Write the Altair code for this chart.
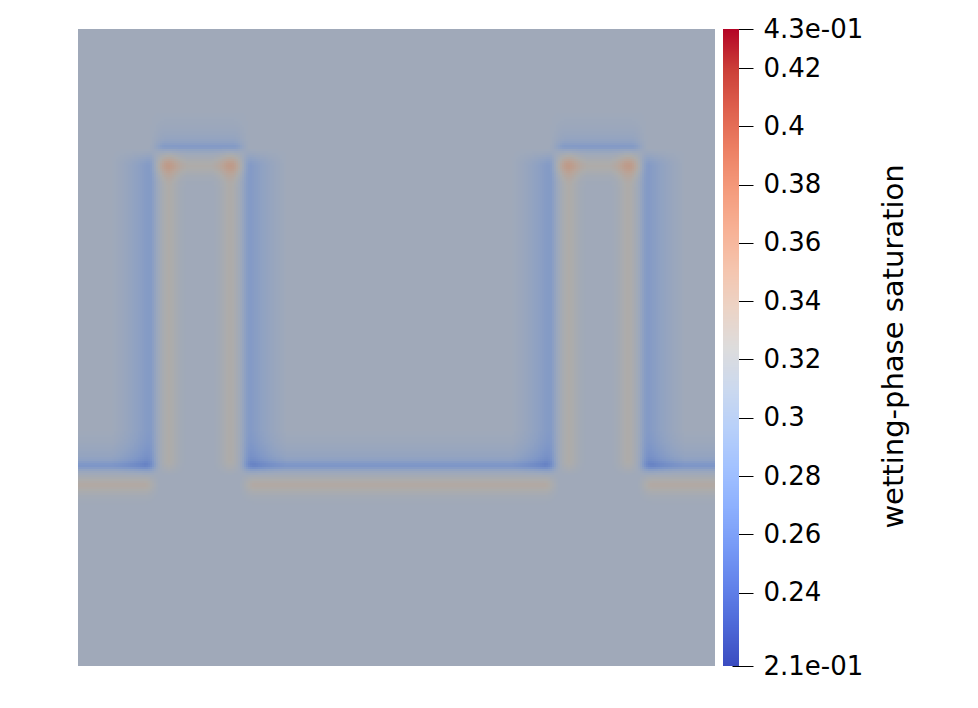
import numpy as np
import pandas as pd
import altair as alt

alt.data_transformers.disable_max_rows()

# ---------------- data ----------------
# colour bar range and ticks
value_min = 0.2148
value_max = 0.4334
tick_values = [0.2148, 0.24, 0.26, 0.28, 0.30, 0.32, 0.34, 0.36, 0.38, 0.40, 0.42, 0.4334]
tick_labels = ["2.1e-01", "0.24", "0.26", "0.28", "0.3", "0.32", "0.34",
               "0.36", "0.38", "0.4", "0.42", "4.3e-01"]
bar_title = "wetting-phase saturation"

# Cool-to-warm colour map stops (low -> high)
coolwarm_rgb = [
    (59, 76, 192), (77, 104, 215), (98, 130, 234), (119, 154, 246),
    (141, 176, 254), (163, 194, 255), (184, 208, 249), (204, 217, 238),
    (221, 220, 220), (236, 211, 197), (245, 196, 173), (247, 176, 148),
    (244, 154, 123), (236, 127, 99), (222, 96, 77), (203, 62, 56), (180, 4, 38),
]

# field geometry (domain units, 637 x 637, origin top-left)
field_size = 637
base_saturation = 0.311
bottom_line_y = 441          # interface of the lower region
tower_top_y = 122            # top interface of both towers
tower_left_x = [76, 476]     # left interfaces of the two towers
tower_right_x = [167, 565]   # right interfaces of the two towers

# saturation change across an interface, s = distance into the lower region
h_profile_s = [-40, -28, -20, -14, -10, -7, -5, -3, -1, 2, 5, 8, 11, 14, 16, 19, 22, 26, 31, 38]
h_profile_v = [0.0, -0.003, -0.007, -0.011, -0.016, -0.024, -0.030, -0.027, -0.016,
               -0.004, 0.003, 0.009, 0.015, 0.019, 0.019, 0.015, 0.010, 0.005, 0.0015, 0.0]
top_strength = 0.8           # tower tops are a little weaker than the bottom line
v_profile_s = [-42, -32, -24, -16, -10, -6, -3, 0, 3, 6, 9, 12, 15, 18, 22, 27, 33]
v_profile_v = [0.0, -0.005, -0.010, -0.016, -0.021, -0.024, -0.023, -0.015, -0.005,
               0.002, 0.008, 0.013, 0.015, 0.013, 0.008, 0.003, 0.0]
# extra saturation at the inner top corners of the towers, by distance
corner_offset = 14
corner_profile_r = [0, 5, 10, 15, 20]
corner_profile_v = [0.010, 0.008, 0.005, 0.002, 0.0]

# ---------------- build the cell table ----------------
cell = 2
xe = np.append(np.arange(0, field_size, cell), field_size).astype(float)
ye = xe.copy()
xc = (xe[:-1] + xe[1:]) / 2
yc = (ye[:-1] + ye[1:]) / 2
X, Y = np.meshgrid(xc, yc)


def ramp(t, start, length):
    u = np.clip((t - start) / length, 0, 1)
    return u * u * (3 - 2 * u)


field = np.full(X.shape, base_saturation)
far = 10000
bottom_edges = [(-far, tower_left_x[0]),
                (tower_right_x[0], tower_left_x[1]),
                (tower_right_x[1], far)]
for a, b in bottom_edges:
    s = Y - bottom_line_y
    t = np.minimum(X - a, b - X)
    field += np.interp(s, h_profile_s, h_profile_v, left=0, right=0) * ramp(t, -8, 18)
for a, b in zip(tower_left_x, tower_right_x):
    s = Y - tower_top_y
    t = np.minimum(X - a, b - X)
    field += top_strength * np.interp(s, h_profile_s, h_profile_v, left=0, right=0) * ramp(t, -6, 18)
v_edges = [(x, 1) for x in tower_left_x] + [(x, -1) for x in tower_right_x]
for pos, sign in v_edges:
    s = sign * (X - pos)
    w = ramp(Y - tower_top_y, -4, 20) * ramp(bottom_line_y - Y, -8, 18)
    field += np.interp(s, v_profile_s, v_profile_v, left=0, right=0) * w
for a, b in zip(tower_left_x, tower_right_x):
    for cx in (a + corner_offset, b - corner_offset):
        r = np.hypot(X - cx, Y - (tower_top_y + corner_offset))
        field += np.interp(r, corner_profile_r, corner_profile_v, right=0)

q = 0.0005
levels = np.round(field / q).astype(int)
rects = []
open_runs = {}
ny, nx = levels.shape
for j in range(ny):
    row = levels[j]
    runs = []
    i0 = 0
    for i in range(1, nx + 1):
        if i == nx or row[i] != row[i0]:
            runs.append((i0, i, int(row[i0])))
            i0 = i
    new_open = {}
    for r in runs:
        new_open[r] = open_runs.pop(r) if r in open_runs else j
    for r, j0 in open_runs.items():
        rects.append((xe[r[0]], xe[r[1]], ye[j0], ye[j], r[2] * q))
    open_runs = new_open
for r, j0 in open_runs.items():
    rects.append((xe[r[0]], xe[r[1]], ye[j0], ye[ny], r[2] * q))
cells = pd.DataFrame(rects, columns=["x0", "x1", "y0", "y1", "sat"])

# colour bar strips, one per pixel row
bar_edges = np.linspace(value_min, value_max, 638)
bar = pd.DataFrame({"v0": bar_edges[:-1], "v1": bar_edges[1:],
                    "v": (bar_edges[:-1] + bar_edges[1:]) / 2})

# ---------------- styles ----------------
stop_values = list(np.linspace(value_min, value_max, len(coolwarm_rgb)))
lighting = 0.78


def hexc(c, f=1.0):
    return "#%02x%02x%02x" % tuple(int(round(min(255, v * f))) for v in c)


true_colors = [hexc(c) for c in coolwarm_rgb]
lit_colors = [hexc(c, lighting) for c in coolwarm_rgb]

font = "DejaVu Sans"

label_list = "[" + ",".join("'%s'" % s for s in tick_labels) + "]"
val_list = "[" + ",".join(repr(v) for v in tick_values) + "]"
label_expr = ("indexof(%s, datum.value) >= 0 ? %s[indexof(%s, datum.value)] : ''"
              % (val_list, label_list, val_list))

heat = alt.Chart(cells).mark_rect(strokeWidth=0).encode(
    x=alt.X("x0:Q", scale=alt.Scale(domain=[0, field_size], nice=False, zero=False), axis=None),
    x2="x1:Q",
    y=alt.Y("y0:Q", scale=alt.Scale(domain=[0, field_size], nice=False, zero=False, reverse=True), axis=None),
    y2="y1:Q",
    color=alt.Color("sat:Q", scale=alt.Scale(domain=stop_values, range=lit_colors,
                                             interpolate="rgb", clamp=True), legend=None),
).properties(width=637, height=637)

colorbar = alt.Chart(bar).mark_rect(strokeWidth=0).encode(
    x=alt.value(0), x2=alt.value(16),
    y=alt.Y("v0:Q", scale=alt.Scale(domain=[value_min, value_max], nice=False, zero=False),
            axis=alt.Axis(orient="right", values=tick_values, labelExpr=label_expr,
                          tickSize=21, tickColor="black", tickWidth=1, offset=-7,
                          domain=False, grid=False, labelOverlap=False, labelFlush=False,
                          labelFont=font, labelFontSize=26, labelColor="black",
                          labelPadding=10, labelBaseline="middle",
                          title=bar_title, titleFont=font, titleFontSize=29,
                          titleFontWeight="normal", titleColor="black", titleAngle=270,
                          titleX=170, titleY=317, titleAlign="center",
                          titleBaseline="alphabetic")),
    y2="v1:Q",
    color=alt.Color("v:Q", scale=alt.Scale(domain=stop_values, range=true_colors,
                                           interpolate="rgb"), legend=None),
).properties(width=16, height=637)

chart = alt.hconcat(heat, colorbar, spacing=8).resolve_scale(
    x="independent", y="independent", color="independent"
).properties(
    padding={"left": 70, "top": 8, "right": 5, "bottom": 5},
    background="white",
).configure_view(strokeWidth=0)

chart.save("out.html", embed_options={"renderer": "svg", "actions": False})
